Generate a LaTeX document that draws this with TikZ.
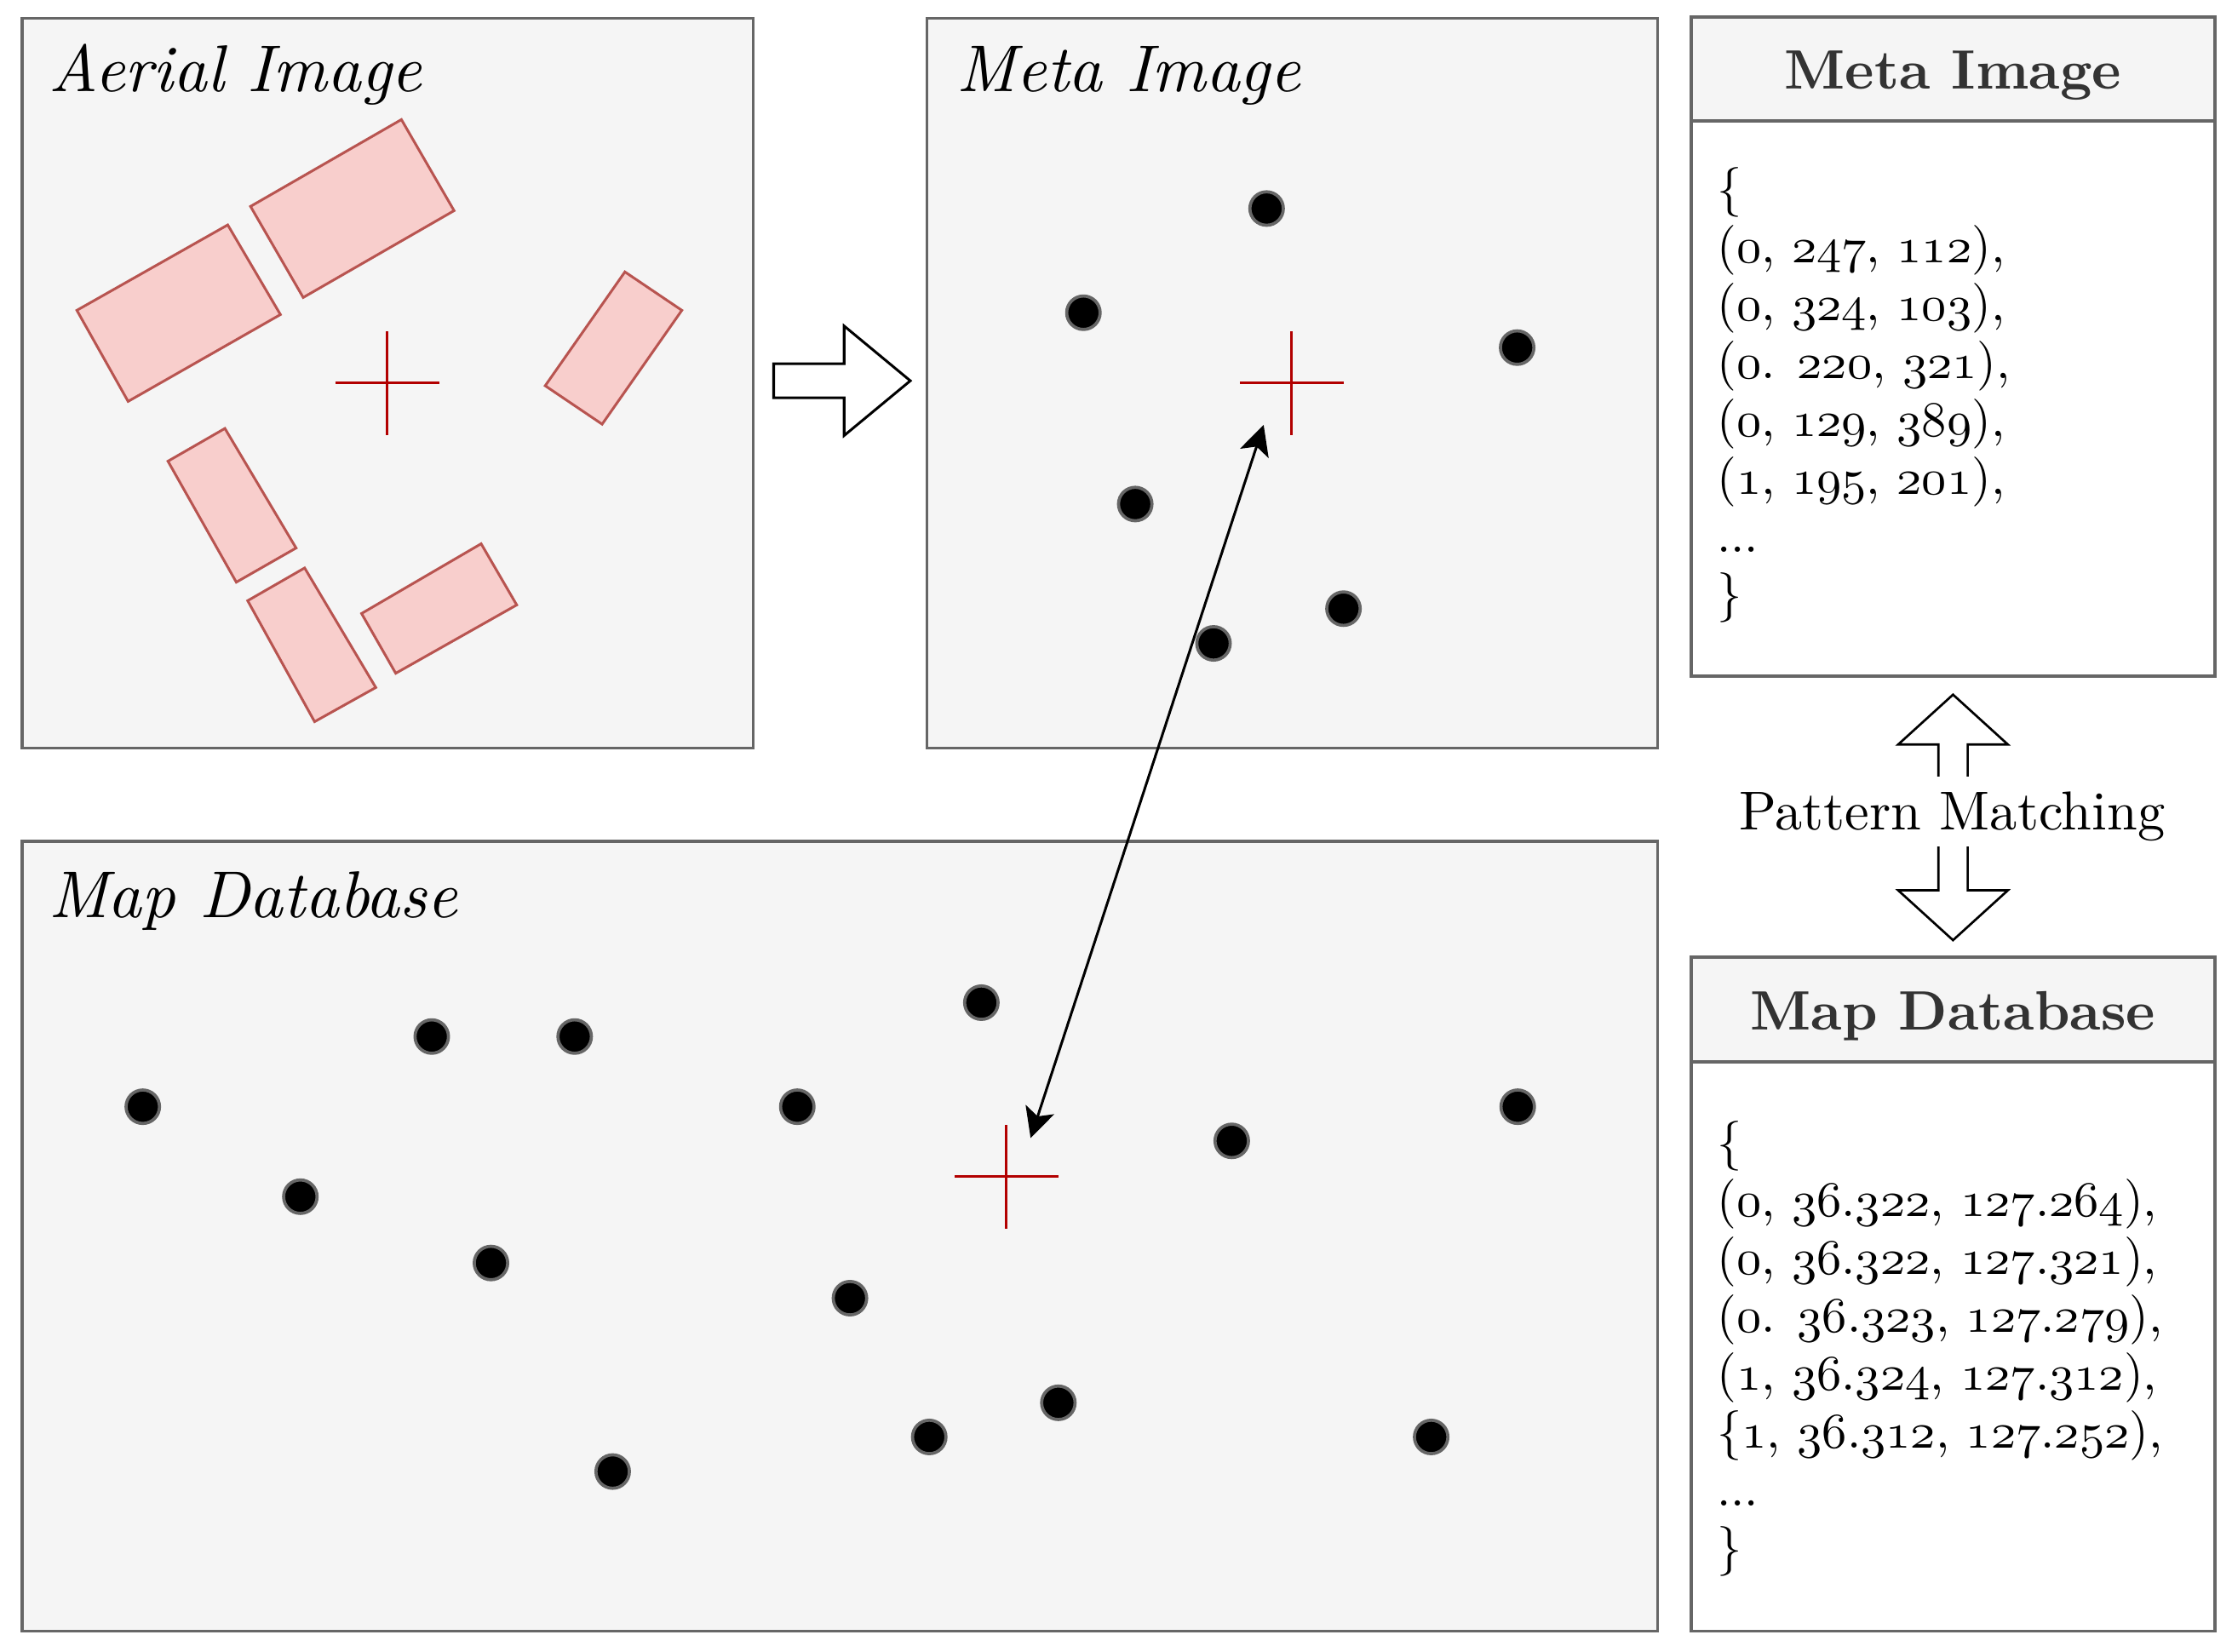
\documentclass[tikz,border=0pt]{standalone}
\usepackage{fontspec}
\setmainfont{lmroman10-regular}[Extension=.otf, UprightFont=*, ItalicFont=lmroman10-italic, BoldFont=lmroman10-bold, BoldItalicFont=lmroman10-bolditalic]
\usetikzlibrary{arrows.meta}
\definecolor{panelfill}{HTML}{F5F5F5}
\definecolor{panelline}{HTML}{666666}
\definecolor{bldfill}{HTML}{F8CECC}
\definecolor{bldline}{HTML}{B85450}
\definecolor{crossred}{HTML}{B20000}
\definecolor{hdrtext}{HTML}{333333}
\DeclareFontFamily{OML}{cmmx}{\skewchar\font127 }
\DeclareFontShape{OML}{cmmx}{m}{it}{<->cmmi10}{}
\newcommand\os[1]{{\usefont{OML}{cmmx}{m}{it}#1}}
\begin{document}
\begin{tikzpicture}[x=1pt,y=-1pt,
  panel/.style={draw=panelline, fill=panelfill, line width=2pt, rectangle, inner sep=0pt, outer sep=0pt, anchor=north west},
  tabbody/.style={panel, fill=white},
  bld/.style={draw=bldline, fill=bldfill, line width=1.8pt, line join=miter},
  dot/.style={circle, fill=black, draw=panelline, line width=2.2pt, minimum size=23.5pt, inner sep=0pt},
  crossln/.style={draw=crossred, line width=1.8pt},
  blockarrow/.style={draw=black, fill=white, line width=1.8pt, line join=miter},
  link/.style={draw=black, line width=1.8pt, {Stealth[length=21pt,width=21pt,inset=5pt]}-{Stealth[length=21pt,width=21pt,inset=5pt]}},
  title/.style={anchor=base west, inner sep=0pt, font=\fontsize{46.5}{50}\selectfont\itshape},
  hdrtxt/.style={anchor=base, inner sep=0pt, text=hdrtext, font=\fontsize{39}{42}\selectfont\bfseries},
  datatxt/.style={anchor=base west, inner sep=0pt, font=\fontsize{35}{40}\selectfont},
  pmtxt/.style={anchor=base, fill=white, inner xsep=3pt, inner ysep=5.5pt, text height=32pt, text depth=6pt, font=\fontsize{38.5}{42}\selectfont}
]
\useasboundingbox (0,0) rectangle (1568,1160);
\fill[white] (0,0) rectangle (1568,1160);

% ---------- panels ----------
\node[panel, minimum width=513.5pt, minimum height=512.4pt] (aerial) at (15.5,13) {};
\node[panel, minimum width=513.3pt, minimum height=512.4pt] (meta) at (651.1,13) {};
\node[panel, minimum width=1149pt, minimum height=555pt] (map) at (15.5,591) {};

% ---------- tables ----------
\node[tabbody, minimum width=368pt, minimum height=390pt] (mtb) at (1188,85) {};
\node[panel, minimum width=368pt, minimum height=73pt] (mth) at (1188,12) {};
\node[tabbody, minimum width=368pt, minimum height=400pt] (dtb) at (1188,746) {};
\node[panel, minimum width=368pt, minimum height=73.5pt] (dth) at (1188,672.5) {};

% ---------- titles ----------
\node[title] (aerialt) at (34,64.6) {Aerial Image};
\node[title] (metat) at (672,64.6) {Meta Image};
\node[title] (mapt) at (34,644.7) {Map Database};
\node[hdrtxt] (mthx) at (1372,62.6) {Meta Image};
\node[hdrtxt] (dthx) at (1372,723.3) {Map Database};

% ---------- aerial buildings ----------
\draw[bld] (282,84) -- (319,148) -- (213,209) -- (176,145) -- cycle;
\draw[bld] (160,158) -- (197,221) -- (90,282) -- (54,218) -- cycle;
\draw[bld] (439,191) -- (479,218) -- (423,298) -- (383,271) -- cycle;
\draw[bld] (158,301) -- (208,385) -- (166,409) -- (118,324) -- cycle;
\draw[bld] (214,399) -- (264,483) -- (221,507) -- (174,422) -- cycle;
\draw[bld] (338,382) -- (363,425) -- (278,473) -- (254,431) -- cycle;

% ---------- crosses ----------
\coordinate (ax) at (272,269);
\coordinate (mx) at (907.4,269);
\coordinate (dx) at (707,826.5);
\foreach \c in {ax,mx,dx}{
  \draw[crossln] ([xshift=-36.5pt]\c) -- ([xshift=36.5pt]\c);
  \draw[crossln] ([yshift=-36.5pt]\c) -- ([yshift=36.5pt]\c);
}

% ---------- meta dots ----------
\node[dot] (m1) at (889.8,146.5) {};
\node[dot] (m2) at (761.1,219.7) {};
\node[dot] (m3) at (1065.8,244.2) {};
\node[dot] (m4) at (797.5,354.1) {};
\node[dot] (m5) at (943.8,427.6) {};
\node[dot] (m6) at (852.5,452) {};

% ---------- map dots ----------
\node[dot] (d1) at (100.3,777.5) {};
\node[dot] (d2) at (303.3,728.2) {};
\node[dot] (d3) at (403.7,728.2) {};
\node[dot] (d4) at (560.1,777.5) {};
\node[dot] (d5) at (211,840.7) {};
\node[dot] (d6) at (344.9,887.3) {};
\node[dot] (d7) at (430.4,1033.8) {};
\node[dot] (d8) at (689.4,704.4) {};
\node[dot] (d9) at (865.3,801.5) {};
\node[dot] (d10) at (1066.2,777.5) {};
\node[dot] (d11) at (597.1,912) {};
\node[dot] (d12) at (743.5,985.5) {};
\node[dot] (d13) at (652.8,1009.5) {};
\node[dot] (d14) at (1005.4,1009.5) {};

% ---------- block arrow aerial -> meta ----------
\draw[blockarrow] (543.5,255.5) -- (593,255.5) -- (593,229) -- (639.5,267.5)
  -- (593,306) -- (593,279.5) -- (543.5,279.5) -- cycle;

% ---------- pattern matching double arrow ----------
\draw[blockarrow, line width=1.6pt] (1372,488) -- (1410.5,523) -- (1382.3,523) -- (1382.3,625.5)
  -- (1410.5,625.5) -- (1372,660.5) -- (1333.5,625.5) -- (1361.7,625.5)
  -- (1361.7,523) -- (1333.5,523) -- cycle;
\node[pmtxt] (pm) at (1371.5,583) {Pattern Matching};

% ---------- meta table text ----------
\node[datatxt] (mt1) at (1206,144) {\{};
\node[datatxt] (mt2) at (1206,184.7) {(\os{0}, \os{247}, \os{112}),};
\node[datatxt] (mt3) at (1206,225.4) {(\os{0}, \os{324}, \os{103}),};
\node[datatxt] (mt4) at (1206,266.1) {(\os{0}. \os{220}, \os{321}),};
\node[datatxt] (mt5) at (1206,306.8) {(\os{0}, \os{129}, \os{389}),};
\node[datatxt] (mt6) at (1206,347.5) {(\os{1}, \os{195}, \os{201}),};
\node[datatxt] (mt7) at (1206,388.2) {...};
\node[datatxt] (mt8) at (1206,428.9) {\}};

% ---------- map table text ----------
\node[datatxt] (dt1) at (1206,814) {\{};
\node[datatxt] (dt2) at (1206,854.7) {(\os{0}, \os{36}.\os{322}, \os{127}.\os{264}),};
\node[datatxt] (dt3) at (1206,895.4) {(\os{0}, \os{36}.\os{322}, \os{127}.\os{321}),};
\node[datatxt] (dt4) at (1206,936.1) {(\os{0}. \os{36}.\os{323}, \os{127}.\os{279}),};
\node[datatxt] (dt5) at (1206,976.8) {(\os{1}, \os{36}.\os{324}, \os{127}.\os{312}),};
\node[datatxt] (dt6) at (1206,1017.5) {\{\os{1}, \os{36}.\os{312}, \os{127}.\os{252}),};
\node[datatxt] (dt7) at (1206,1058.2) {...};
\node[datatxt] (dt8) at (1206,1098.9) {\}};

% ---------- correspondence arrow ----------
\coordinate (ptop) at (887.7,298.5);
\coordinate (pbot) at (724,799.5);
\draw[link] (pbot) -- (ptop);
\end{tikzpicture}
\end{document}
